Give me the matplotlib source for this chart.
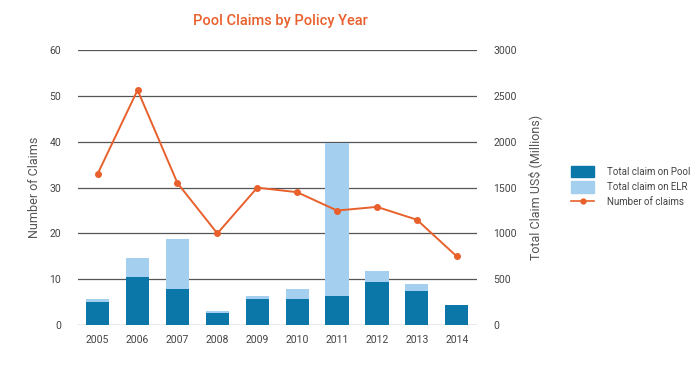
import numpy as np
import matplotlib
matplotlib.use("Agg")
import matplotlib.pyplot as plt
from matplotlib.patches import Patch
from matplotlib.lines import Line2D

# ----------------------------------------------------------------------------
# data
# ----------------------------------------------------------------------------
years = ["2005", "2006", "2007", "2008", "2009", "2010", "2011", "2012", "2013", "2014"]
pool_claim = [255, 525, 395, 135, 285, 285, 315, 465, 375, 215]      # US$ millions
elr_claim = [25, 210, 545, 20, 30, 110, 1675, 120, 70, 0]            # US$ millions
n_claims = [33, 51.3, 31, 20, 30, 29, 25, 25.8, 23, 15]

DARK = "#0B76A8"
LIGHT = "#A4CFEE"
ORANGE = "#E8602C"
GREY = "#555555"

plt.rcParams['font.family'] = ['Roboto', 'DejaVu Sans']

fig = plt.figure(figsize=(7.0, 3.69), dpi=100)
ax = fig.add_axes([0.111, 0.119, 0.570, 0.745])   # bars, US$ millions (right scale)
ax2 = ax.twinx()                                  # line, number of claims (left scale)

x = np.arange(len(years))
ax.bar(x, pool_claim, width=0.58, color=DARK, zorder=2)
ax.bar(x, elr_claim, width=0.58, bottom=pool_claim, color=LIGHT, zorder=2)
ax2.plot(x, n_claims, color=ORANGE, lw=1.4, marker="o", ms=4, zorder=3)

ax.set_xlim(-0.5, 9.5)
ax.set_ylim(0, 3000)
ax2.set_ylim(0, 60)
ax.set_yticks(np.arange(0, 3001, 500))
ax2.set_yticks(np.arange(0, 61, 10))
ax.set_xticks(x)
ax.set_xticklabels(years)

# swap sides: bars axis on right, line axis on left
ax.yaxis.tick_right()
ax.yaxis.set_label_position("right")
ax2.yaxis.tick_left()
ax2.yaxis.set_label_position("left")

ax.set_axisbelow(True)
ax.grid(axis="y", color=GREY, lw=0.9)
for a in (ax, ax2):
    for s in a.spines.values():
        s.set_visible(False)
    a.tick_params(length=0, labelsize=7.5, labelcolor="#444444")
ax.tick_params(axis="y", pad=12)
ax2.tick_params(axis="y", pad=12)
ax.tick_params(axis="x", pad=7)

ax.set_ylabel("Total Claim US$ (Millions)", fontsize=9, color="#555555", labelpad=8)
ax2.set_ylabel("Number of Claims", fontsize=9, color="#555555", labelpad=6)

fig.text(0.400, 0.942, "Pool Claims by Policy Year", ha="center", va="center",
         fontsize=10.5, color=ORANGE, fontweight="medium")

handles = [Patch(color=DARK, label="Total claim on Pool"),
           Patch(color=LIGHT, label="Total claim on ELR"),
           Line2D([], [], color=ORANGE, lw=1.2, marker="o", ms=3.5, label="Number of claims")]
fig.legend(handles=handles, loc="upper left", bbox_to_anchor=(0.803, 0.575),
           frameon=False, fontsize=7, handlelength=2.4, handleheight=1.5,
           labelspacing=0.35, handletextpad=1.3, labelcolor="#444444")

fig.savefig("out.png", dpi=100)
